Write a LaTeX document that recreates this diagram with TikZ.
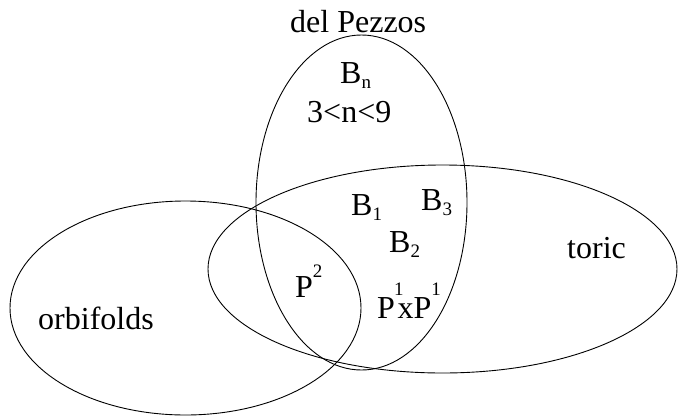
\documentclass[tikz,border=0pt]{standalone}
\usepackage{fontspec}
\setmainfont{Liberation Serif}
\newcommand{\bigtxt}{\fontsize{32}{32}\selectfont}
\newcommand{\smtxt}{\fontsize{19}{19}\selectfont}
\newcommand{\subs}[1]{\raisebox{-5pt}{\smtxt #1}}
\newcommand{\sups}[2]{\raisebox{#1}{\smtxt #2}}
\begin{document}
\begin{tikzpicture}[x=1pt,y=-1pt,
  setline/.style={line width=0.9pt, draw=black},
  lbl/.style={inner sep=0pt, anchor=base west, font=\bigtxt}]
\useasboundingbox (0,0) rectangle (678,416);
% sets
\draw[setline] (361.5,202.5) ellipse [x radius=105.5, y radius=167.5];
\draw[setline] (442.5,269) ellipse [x radius=234.5, y radius=104];
\draw[setline] (185.5,308) ellipse [x radius=175.5, y radius=107];
% labels
\node[lbl] (dp) at (290,32) {del Pezzos};
\node[lbl] (bn) at (340,83) {B\subs{n}};
\node[lbl] (ineq) at (307,122) {3<n<9};
\node[lbl] (b1) at (351,215) {B\subs{1}};
\node[lbl] (b3) at (421,210) {B\subs{3}};
\node[lbl] (b2) at (389,252) {B\subs{2}};
\node[lbl] (p2) at (295,297) {P\sups{20pt}{2}};
\node[lbl] (pxp) at (377,318) {P\hspace{-1pt}\sups{23pt}{1}\hspace{-6pt}xP\sups{23pt}{1}};
\node[lbl] (toric) at (567,258) {toric};
\node[lbl] (orb) at (38,329) {orbifolds};
\end{tikzpicture}
\end{document}
